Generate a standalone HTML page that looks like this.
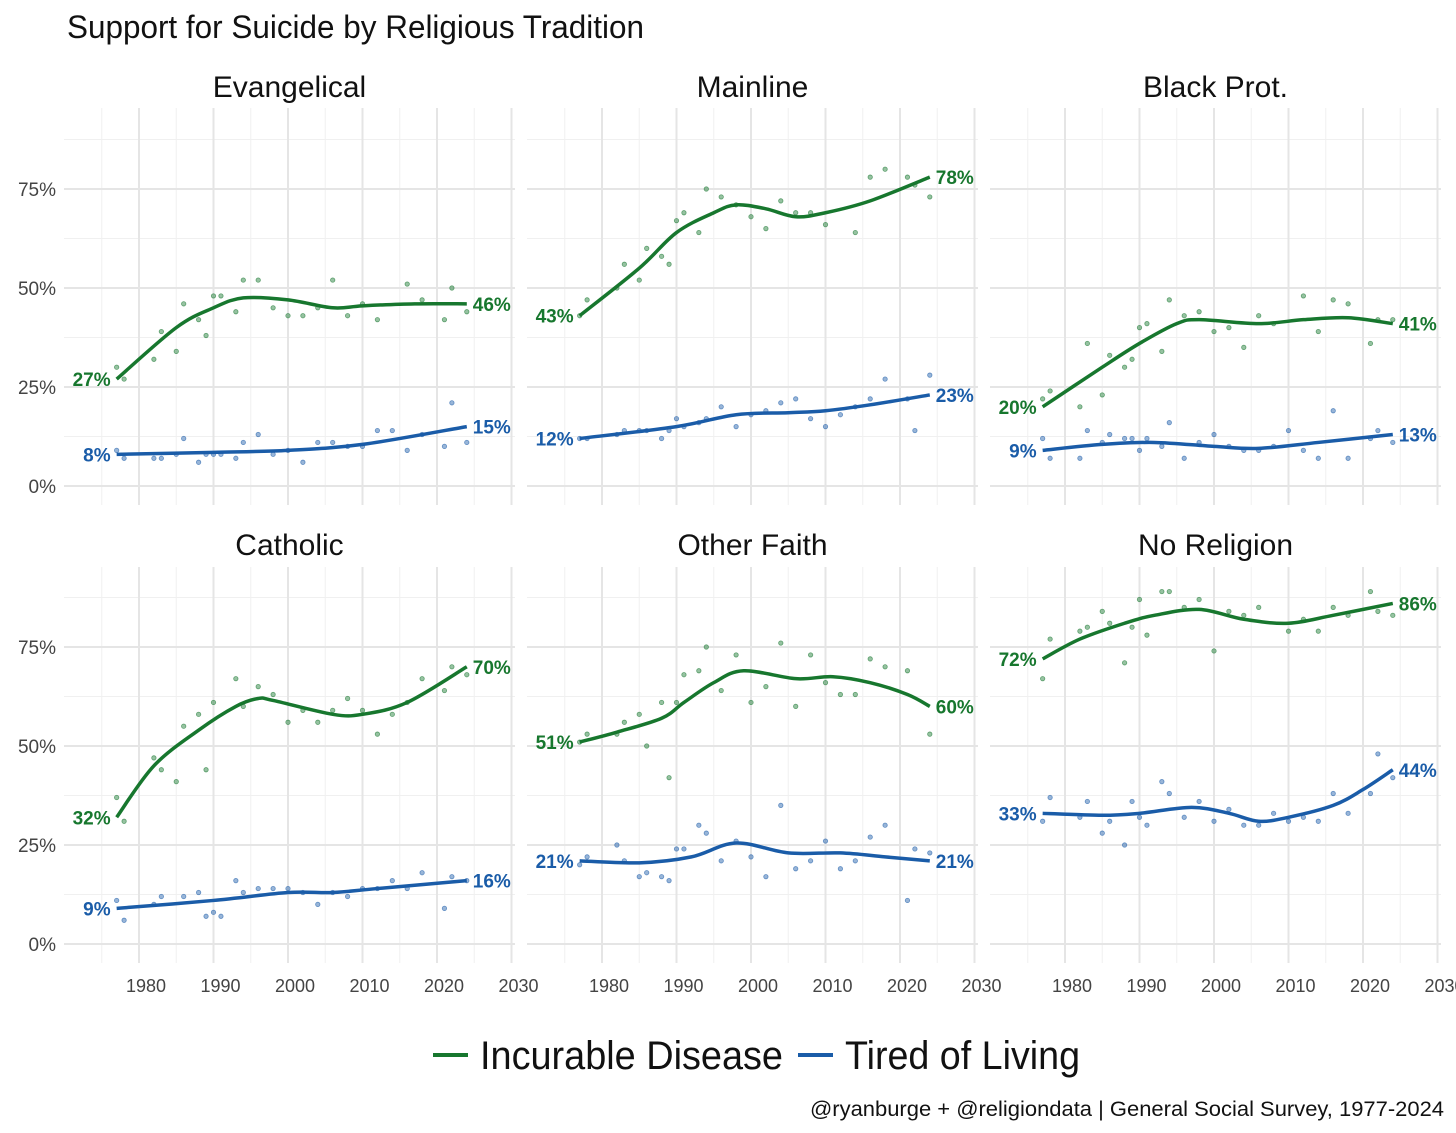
<!DOCTYPE html>
<html><head><meta charset="utf-8">
<style>
body{margin:0;background:#fff;}
svg{display:block;font-family:"Liberation Sans Narrow","Liberation Sans",sans-serif;}
</style></head>
<body>
<svg id="chart" width="1456" height="1133" viewBox="0 0 1456 1133">
<text x="67" y="38" font-size="32" fill="#111" textLength="577" lengthAdjust="spacingAndGlyphs">Support for Suicide by Religious Tradition</text>
<g id="panels"></g>
<g>
<line x1="433" y1="1055" x2="468" y2="1055" stroke="#17772e" stroke-width="4"/>
<text x="480" y="1069" font-size="40" fill="#111" textLength="303" lengthAdjust="spacingAndGlyphs">Incurable Disease</text>
<line x1="798" y1="1055" x2="833" y2="1055" stroke="#1a5ca8" stroke-width="4"/>
<text x="845" y="1069" font-size="40" fill="#111" textLength="235" lengthAdjust="spacingAndGlyphs">Tired of Living</text>
</g>
<text x="810" y="1116" font-size="21" fill="#111" textLength="634" lengthAdjust="spacingAndGlyphs">@ryanburge + @religiondata | General Social Survey, 1977-2024</text>
</svg>
<script>
const panelNames = ["Evangelical","Mainline","Black Prot.","Catholic","Other Faith","No Religion"];
const years = [1977,1978,1982,1983,1985,1986,1988,1989,1990,1991,1993,1994,1996,1998,2000,2002,2004,2006,2008,2010,2012,2014,2016,2018,2021,2022,2024];
const incurablePts = [
[30,27,32,39,34,46,42,38,48,48,44,52,52,45,43,43,45,52,43,46,42,null,51,47,42,50,44],
[43,47,50,56,52,60,58,56,67,69,64,75,73,71,68,65,72,69,69,66,null,64,78,80,78,76,73],
[22,24,20,36,23,33,30,32,40,41,34,47,43,44,39,40,35,43,41,null,48,39,47,46,36,42,42],
[37,31,47,44,41,55,58,44,61,null,67,60,65,63,56,59,56,59,62,59,53,58,61,67,64,70,68],
[51,53,53,56,58,50,61,42,61,68,69,75,64,73,61,65,76,60,73,66,63,63,72,70,69,null,53],
[67,77,79,80,84,81,71,80,87,78,89,89,85,87,74,84,83,85,null,79,82,79,85,83,89,84,83]];
const tiredPts = [
[9,7,7,7,8,12,6,8,8,8,7,11,13,8,9,6,11,11,10,10,14,14,9,13,10,21,11],
[12,12,13,14,14,14,12,14,17,15,16,17,20,15,18,19,21,22,17,15,18,20,22,27,22,14,28],
[12,7,7,14,11,13,12,12,9,12,10,16,7,11,13,10,9,9,10,14,9,7,19,7,12,14,11],
[11,6,10,12,null,12,13,7,8,7,16,13,14,14,14,13,10,13,12,14,14,16,14,18,9,17,16],
[20,22,25,21,17,18,17,16,24,24,30,28,21,26,22,17,35,19,21,26,19,21,27,30,11,24,23],
[31,37,32,36,28,31,25,36,32,30,41,38,32,36,31,34,30,30,33,31,32,31,38,33,38,48,42]];
const incurableSmoothYears = [
[1977,1985,1990,1994,2000,2006,2010,2017,2024],
[1977,1985,1990,1995,1998,2002,2006,2010,2016,2024],
[1977,1985,1990,1995,1998,2006,2012,2018,2024],
[1977,1982,1988,1993,1996,1998,2006,2010,2016,2024],
[1977,1982,1988,1991,1995,1999,2006,2011,2016,2021,2024],
[1977,1982,1988,1992,1998,2004,2010,2016,2024]];
const incurableSmooth = [
[27,40,45,47.5,47,45,45.5,46,46],
[43,55,64,69,71,70,68,69,72,78],
[20,30,36,41,42,41,42,42.5,41],
[32,45,54,60,62,61.5,58,58,61,70],
[51,53.5,57,61,66,69,67,67.5,66,63,60],
[72,77,81,83,84.5,82,81,83,86]];
const tiredSmoothYears = [
[1977,1990,2000,2010,2024],
[1977,1990,1998,2005,2010,2016,2024],
[1977,1985,1992,2000,2006,2014,2024],
[1977,1990,2000,2006,2012,2024],
[1977,1985,1992,1998,2005,2012,2018,2024],
[1977,1985,1990,1997,2002,2006,2010,2016,2020,2024]];
const tiredSmooth = [
[8,8.5,9,10.5,15],
[12,15,18,18.5,19,20.5,23],
[9,10.5,11,10,9.5,11,13],
[9,11,13,13,14,16],
[21,20.5,22,25.5,23,23,22,21],
[33,32.5,33,34.5,33,31,32,35,39,44]];
const startLabels = [["27%","8%"],["43%","12%"],["20%","9%"],["32%","9%"],["51%","21%"],["72%","33%"]];
const endLabels = [["46%","15%"],["78%","23%"],["41%","13%"],["70%","16%"],["60%","21%"],["86%","44%"]];
const yTicks = [0,25,50,75];
const yTickLabels = ["0%","25%","50%","75%"];
const xTicks = [1980,1990,2000,2010,2020,2030];

const NS="http://www.w3.org/2000/svg";
const G="#17772e", B="#1a5ca8";
const root=document.getElementById('panels');
function el(t,a,p){const e=document.createElementNS(NS,t);for(const k in a)e.setAttribute(k,a[k]);(p||root).appendChild(e);return e;}
function path(xs,ys,xf,yf){
  const P=xs.map((x,i)=>[xf(x),yf(ys[i])]);
  let d="M"+P[0][0]+","+P[0][1];
  for(let i=0;i<P.length-1;i++){
    const p0=P[Math.max(0,i-1)],p1=P[i],p2=P[i+1],p3=P[Math.min(P.length-1,i+2)];
    const c1=[p1[0]+(p2[0]-p0[0])/6,p1[1]+(p2[1]-p0[1])/6];
    const c2=[p2[0]-(p3[0]-p1[0])/6,p2[1]-(p3[1]-p1[1])/6];
    d+=" C"+c1+" "+c2+" "+p2;
  }
  return d;
}
for(let p=0;p<6;p++){
  const col=p%3,row=Math.floor(p/3);
  const off=col*463;
  const left=64+off,right=515+off;
  const xf=yr=>139+off+(yr-1980)*7.45;
  const y0=row?944:486;
  const yf=v=>y0-v*3.96;
  const top=row?567:108,bottom=row?963:505;
  const g=el('g',{});
  
  
  for(let v=-12.5;v<=95;v+=25){const yy=yf(v);if(yy<top||yy>bottom)continue;
    const l=el('line',{x1:left,x2:right,y1:yy,y2:yy,stroke:'#f0f0f0','stroke-width':1},g);
    }
  for(let yr=1975;yr<=2025;yr+=10){const l=el('line',{x1:xf(yr),x2:xf(yr),y1:top,y2:bottom,stroke:'#f0f0f0','stroke-width':1},g);
    }
  yTicks.forEach((v,i)=>{const l=el('line',{x1:left,x2:right,y1:yf(v),y2:yf(v),stroke:'#e5e5e5','stroke-width':2},g);
    
    if(col===0){const t=el('text',{x:56,y:yf(v)+7,'text-anchor':'end','font-size':19,fill:'#444'},g);t.textContent=yTickLabels[i];
      }});
  xTicks.forEach(yr=>{const l=el('line',{x1:xf(yr),x2:xf(yr),y1:top,y2:bottom,stroke:'#e5e5e5','stroke-width':2},g);
    
    if(row===1){const t=el('text',{x:xf(yr)+7,y:992,'text-anchor':'middle','font-size':18,fill:'#444'},g);t.textContent=yr;
      }});
  const st=el('text',{x:(left+right)/2,y:row?555:97,'text-anchor':'middle','font-size':30,fill:'#111'},g);
  st.textContent=panelNames[p];
  
  [[incurablePts,G],[tiredPts,B]].forEach(([arr,c])=>{
    years.forEach((yr,i)=>{const v=arr[p][i];if(v==null)return;
      const d=el('circle',{cx:xf(yr),cy:yf(v),r:2.2,fill:c,'fill-opacity':0.45,stroke:c,'stroke-opacity':0.6,'stroke-width':0.8},g);
      });
  });
  [[incurableSmoothYears,incurableSmooth,G,0],[tiredSmoothYears,tiredSmooth,B,1]].forEach(([ys,vs,c,k])=>{
    const l=el('path',{d:path(ys[p],vs[p],xf,yf),fill:'none',stroke:c,'stroke-width':3.5},g);
    
    const first=vs[p][0],last=vs[p][vs[p].length-1];
    const s=el('text',{x:xf(ys[p][0])-6,y:yf(first)+7,'text-anchor':'end','font-size':19,'font-weight':'bold',fill:c},g);
    s.textContent=startLabels[p][k];
    const e=el('text',{x:xf(ys[p][ys[p].length-1])+6,y:yf(last)+7,'text-anchor':'start','font-size':19,'font-weight':'bold',fill:c},g);
    e.textContent=endLabels[p][k];
  });
}
</script>
</body></html>
